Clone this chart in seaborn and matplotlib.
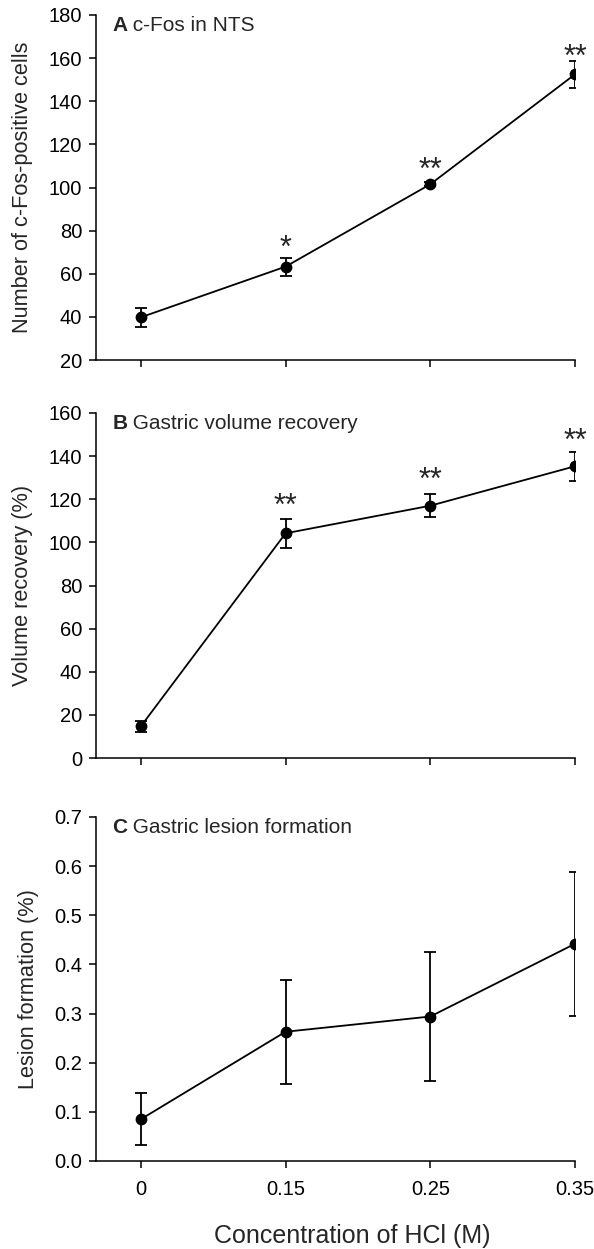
import numpy as np
import pandas as pd
import matplotlib
matplotlib.use("Agg")
import matplotlib.pyplot as plt
import seaborn as sns

# x categories (HCl concentration, M)
conc_labels = ["0", "0.15", "0.25", "0.35"]

# Panel A: c-Fos positive cells in NTS
cfos_mean = [39.8, 63.3, 101.5, 152.5]
cfos_err = [4.5, 4.2, 1.0, 6.2]
cfos_stars = ["", "*", "**", "**"]
cfos_star_y = [None, 74.8, 111.0, 163.0]

# Panel B: gastric volume recovery (%)
vol_mean = [14.7, 104.2, 117.0, 135.3]
vol_err = [2.5, 6.6, 5.4, 6.8]
vol_stars = ["", "**", "**", "**"]
vol_star_y = [None, 119.4, 131.8, 149.6]

# Panel C: gastric lesion formation (%)
lesion_mean = [0.085, 0.263, 0.294, 0.442]
lesion_err = [0.053, 0.106, 0.131, 0.147]

panels = [
    ("A", " c-Fos in NTS", "Number of c-Fos-positive cells",
     cfos_mean, cfos_err, cfos_stars, cfos_star_y, (20, 180), np.arange(20, 181, 20), "{:.0f}"),
    ("B", " Gastric volume recovery", "Volume recovery (%)",
     vol_mean, vol_err, vol_stars, vol_star_y, (0, 160), np.arange(0, 161, 20), "{:.0f}"),
    ("C", " Gastric lesion formation", "Lesion formation (%)",
     lesion_mean, lesion_err, None, None, (0, 0.7), np.arange(0, 0.71, 0.1), "{:.1f}"),
]

sns.set_style("ticks")
plt.rcParams["font.family"] = ["Liberation Sans", "DejaVu Sans"]

W, H = 594, 1249
fig = plt.figure(figsize=(W / 100, H / 100), dpi=100)

left, right = 96, 575
tops = [15, 413, 817]
bottoms = [360, 758, 1161]
star_fs = 22

for i, (letter, title, ylab, mean, err, stars, star_y, ylim, yticks, fmt) in enumerate(panels):
    ax = fig.add_axes([left / W, 1 - bottoms[i] / H, (right - left) / W,
                       (bottoms[i] - tops[i]) / H])
    df = pd.DataFrame({"conc": conc_labels, "val": mean})
    sns.pointplot(data=df, x="conc", y="val", order=conc_labels, color="black",
                  markers="o", markersize=7.5, linewidth=1.3, errorbar=None, ax=ax)
    ax.errorbar(np.arange(len(mean)), mean, yerr=err, fmt="none", ecolor="black",
                elinewidth=1.3, capsize=4, capthick=1.3, zorder=1)

    if stars is not None:
        for j, s in enumerate(stars):
            if s:
                # shift so the asterisk ink (sitting high in the glyph) is centred
                ax.annotate(s, (j, star_y[j]), xytext=(0, -0.22 * star_fs),
                            textcoords="offset points", ha="center", va="center",
                            fontsize=star_fs)

    ax.set_xlim(-0.31, 3.0)
    ax.set_ylim(*ylim)
    ax.set_yticks(yticks)
    ax.set_yticklabels([fmt.format(v) for v in yticks])
    ax.set_ylabel(ylab, fontsize=15.7, labelpad=11)
    ax.set_xlabel("")
    if i < 2:
        ax.set_xticklabels([])
    else:
        ax.set_xticklabels(conc_labels)
        ax.set_xlabel("Concentration of HCl (M)", fontsize=18)
        ax.xaxis.set_label_coords(0.535, -0.183)

    ax.tick_params(axis="both", direction="out", length=5, width=1.1,
                   colors="black", labelsize=14.5)
    ax.tick_params(axis="x", pad=9)
    ax.tick_params(axis="y", pad=5)
    for sp in ["left", "bottom"]:
        ax.spines[sp].set_linewidth(1.1)
        ax.spines[sp].set_color("black")
    sns.despine(ax=ax)

    t1 = ax.text(0.034, 0.97, letter, transform=ax.transAxes, fontsize=15,
                 fontweight="bold", ha="left", va="center")
    ax.annotate(title, xy=(1, 0), xycoords=t1, ha="left", va="bottom", fontsize=15)

fig.savefig("out.png", dpi=100)
